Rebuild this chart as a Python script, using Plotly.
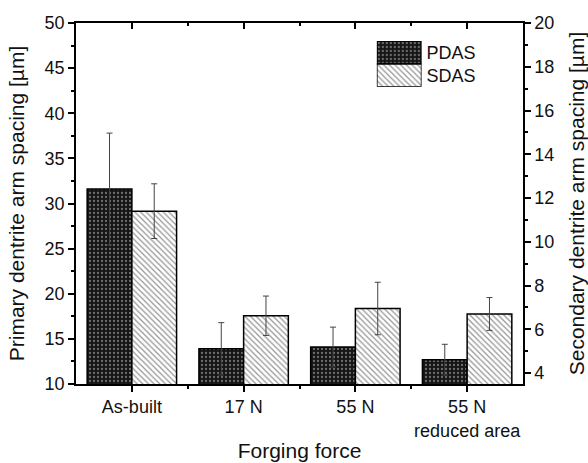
import plotly.graph_objects as go

categories = ["As-built", "17 N", "55 N", "55 N<br>reduced area"]
pdas_values = [31.6, 13.9, 14.1, 12.7]
pdas_errors = [6.2, 2.9, 2.2, 1.7]
sdas_values = [11.4, 6.62, 6.95, 6.7]
sdas_errors = [1.25, 0.9, 1.2, 0.75]
series_names = ["PDAS", "SDAS"]
left_ticks = [10, 15, 20, 25, 30, 35, 40, 45, 50]
right_ticks = [4, 6, 8, 10, 12, 14, 16, 18, 20]

FONT = "Liberation Sans, Arial, sans-serif"
TXT = "#111111"
positions = list(range(len(categories)))

pdas_pattern = dict(shape=".", fgcolor="#c8c8c8", bgcolor="#151515", size=4, solidity=0.25)
sdas_pattern = dict(shape="\\", fgcolor="#2a2a2a", bgcolor="white", size=4, solidity=0.3)

fig = go.Figure()

fig.add_trace(go.Bar(
    x=positions, y=pdas_values, name=series_names[0],
    width=0.4, offset=-0.4, xaxis="x", yaxis="y",
    marker=dict(color="#151515", pattern=pdas_pattern, line=dict(color="black", width=1.5)),
    error_y=dict(type="data", array=pdas_errors, color="#444444", thickness=1, width=3),
    showlegend=False,
))
fig.add_trace(go.Bar(
    x=positions, y=sdas_values, name=series_names[1],
    width=0.4, offset=0.0, xaxis="x", yaxis="y2",
    marker=dict(color="white", pattern=sdas_pattern, line=dict(color="black", width=1.5)),
    error_y=dict(type="data", array=sdas_errors, color="#444444", thickness=1, width=3),
    showlegend=False,
))
# invisible trace to activate the top axis
fig.add_trace(go.Scatter(x=positions, y=pdas_values, xaxis="x2", yaxis="y",
                         mode="markers", marker=dict(opacity=0), hoverinfo="skip",
                         showlegend=False))

# legend drawn as a mini axis pair
fig.add_trace(go.Bar(
    y=[1], x=[1], orientation="h", width=1, offset=-0.5, xaxis="x3", yaxis="y3",
    marker=dict(color="#151515", pattern=pdas_pattern, line=dict(color="black", width=1.5)),
    showlegend=False, hoverinfo="skip",
))
fig.add_trace(go.Bar(
    y=[0], x=[1], orientation="h", width=1, offset=-0.5, xaxis="x3", yaxis="y3",
    marker=dict(color="white", pattern=sdas_pattern, line=dict(color="black", width=1.5)),
    showlegend=False, hoverinfo="skip",
))

axis_common = dict(showline=True, linecolor="black", linewidth=1.5, showgrid=False,
                   zeroline=False, tickcolor="black", tickwidth=1.5, automargin=False,
                   tickfont=dict(family=FONT, size=18, color=TXT))

fig.update_layout(
    width=588, height=463,
    margin=dict(l=76, r=65, t=23, b=79),
    paper_bgcolor="white", plot_bgcolor="white",
    font=dict(family=FONT, color=TXT),
    barmode="overlay",
    xaxis=dict(
        **axis_common,
        range=[-0.5, 3.5], tickmode="array", tickvals=positions, ticktext=categories,
        ticks="outside", ticklen=6,
        minor=dict(tickmode="array", tickvals=[p + 0.5 for p in positions[:-1]],
                   ticks="outside", ticklen=3.5, tickcolor="black", tickwidth=1.5),
        title=dict(text="Forging force", font=dict(family=FONT, size=21, color=TXT), standoff=4),
    ),
    xaxis2=dict(
        **axis_common,
        overlaying="x", side="top", anchor="y",
        range=[-0.5, 3.5], tickmode="array", tickvals=positions, showticklabels=False,
        ticks="inside", ticklen=6,
        minor=dict(tickmode="array", tickvals=[p + 0.5 for p in positions[:-1]],
                   ticks="inside", ticklen=3.5, tickcolor="black", tickwidth=1.5),
    ),
    yaxis=dict(
        **axis_common,
        range=[10, 50], tickmode="array", tickvals=left_ticks,
        ticks="outside", ticklen=6,
        minor=dict(dtick=2.5, tick0=10, ticks="outside", ticklen=3.5, tickcolor="black", tickwidth=1.5),
        title=dict(text="Primary dentrite arm spacing [µm]", font=dict(family=FONT, size=21, color=TXT), standoff=14),
    ),
    yaxis2=dict(
        **axis_common,
        overlaying="y", side="right", anchor="x",
        range=[3.5, 20], tickmode="array", tickvals=right_ticks,
        ticks="outside", ticklen=6,
        minor=dict(dtick=1, tick0=3, ticks="outside", ticklen=3.5, tickcolor="black", tickwidth=1.5),
        title=dict(text="Secondary dentrite arm spacing [µm]", font=dict(family=FONT, size=21, color=TXT), standoff=16),
    ),
    xaxis3=dict(domain=[0.673, 0.773], anchor="y3", range=[0, 1], visible=False, fixedrange=True),
    yaxis3=dict(domain=[0.8235, 0.95], anchor="x3", range=[-0.5, 1.5], side="right",
                tickmode="array", tickvals=[1, 0], ticktext=series_names,
                showline=False, showgrid=False, zeroline=False, ticks="",
                ticklabelstandoff=4, automargin=False,
                tickfont=dict(family=FONT, size=18, color=TXT), fixedrange=True),
)

fig.write_html("out.html", config={"displayModeBar": False},
               post_script="document.body.style.margin='0px';")
